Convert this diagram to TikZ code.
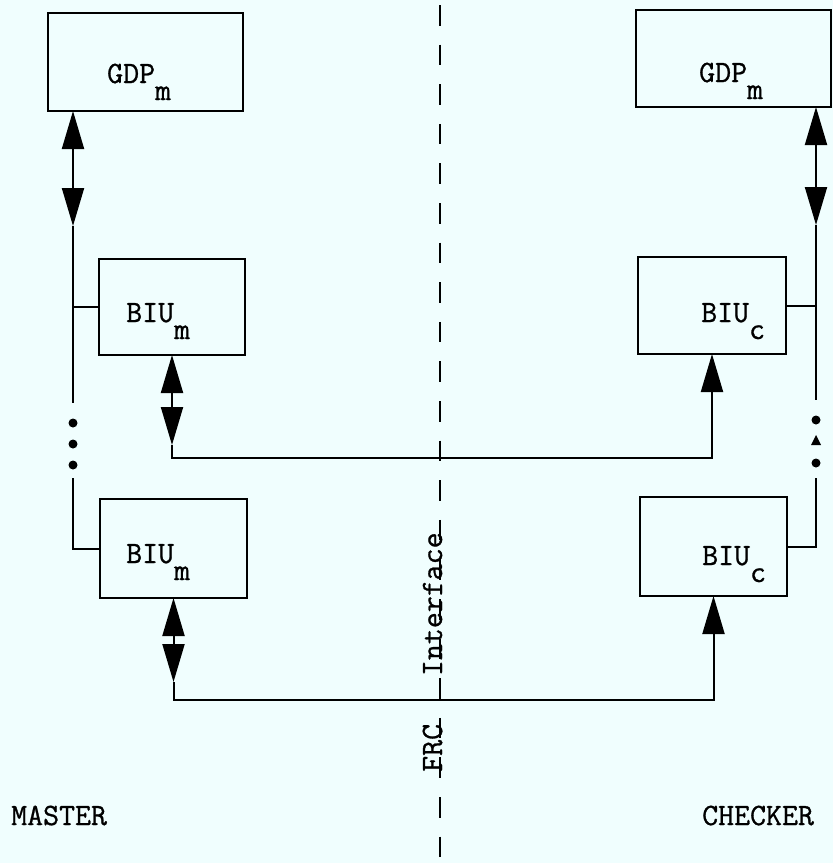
\documentclass[tikz,border=0pt]{standalone}
\usepackage{fontspec}
\usetikzlibrary{arrows.meta}
\newfontfamily\twfont{Latin Modern Mono}[FakeBold=0.9]
\definecolor{bgc}{RGB}{240,254,254}
\newcommand\lowsub[1]{\raisebox{-17pt}{#1}}
\tikzset{
  bigtri/.tip={Triangle[length=38pt,width=22pt]},
  box/.style 2 args={draw, line width=2.8pt, inner sep=0pt, outer sep=0pt,
    minimum width=#1pt, minimum height=#2pt},
  lbl/.style={font=\fontsize{31}{36}\selectfont\twfont, inner sep=0pt, anchor=base west},
  conn/.style={line width=2pt},
  dotmark/.style={fill=black}
}
\begin{document}
\begin{tikzpicture}[x=1pt,y=-1pt]
\fill[bgc] (0,0) rectangle (833,863);
\useasboundingbox (0,0) rectangle (833,863);

% boxes
\node[box={195}{98}] (gdpm) at (145.5,62) {};
\node[box={195}{97}] (gdpc) at (733.5,58.5) {};
\node[box={146}{96}] (bm1) at (172,307) {};
\node[box={148}{97}] (bc1) at (712,305.5) {};
\node[box={147}{99}] (bm2) at (173.5,548.5) {};
\node[box={147}{99}] (bc2) at (713.5,546.5) {};

% labels
\node[lbl] (tgm) at (107,83) {GDP\lowsub{m}};
\node[lbl] (tgc) at (699,82) {GDP\lowsub{m}};
\node[lbl] (tbm1) at (126,322) {BIU\lowsub{m}};
\node[lbl] (tbc1) at (701,322) {BIU\lowsub{c}};
\node[lbl] (tbm2) at (126,563) {BIU\lowsub{m}};
\node[lbl] (tbc2) at (702,565) {BIU\lowsub{c}};
\node[lbl] (tmaster) at (11,825) {MASTER};
\node[lbl] (tchecker) at (702,825) {CHECKER};
\node[lbl, rotate=90] (tfrc) at (442,772) {FRC~~~Interface};

% divider
\coordinate (dtop) at (440,5);
\coordinate (dbot) at (440,863);
\draw[line width=2.8pt, dash pattern=on 20.5pt off 19.1pt] (dtop) -- (dbot);

% left (master) bus
\coordinate (lbusA) at (73,226);
\coordinate (lbusB) at (73,403);
\coordinate (lbusC) at (73,478);
\draw[conn, bigtri-bigtri] (gdpm.south -| lbusA) -- (lbusA);
\draw[conn] (lbusA) -- (lbusB);
\draw[conn] (bm1.west) -- (bm1.west -| lbusA);
\draw[conn] (lbusC) |- (bm2.west);
\fill[dotmark] (73,423) circle[radius=4.5pt];
\fill[dotmark] (73,444) circle[radius=4.5pt];
\fill[dotmark] (73,465) circle[radius=4.5pt];

% right (checker) bus
\coordinate (rbusA) at (816,225);
\coordinate (rbusB) at (816,400);
\coordinate (rbusC) at (816,478);
\draw[conn, bigtri-bigtri] (gdpc.south -| rbusA) -- (rbusA);
\draw[conn] (rbusA) -- (rbusB);
\draw[conn] (bc1.east) -- (bc1.east -| rbusA);
\draw[conn] (rbusC) |- (bc2.east);
\fill[dotmark] (816,420) circle[radius=4.5pt];
\fill[dotmark] (816,435) -- (821,445) -- (811,445) -- cycle;
\fill[dotmark] (816,463) circle[radius=4.5pt];

% FRC connections
\coordinate (m1) at (172,445);
\coordinate (bus1) at (172,458);
\draw[conn, bigtri-bigtri] (bm1.south) -- (m1);
\draw[conn, -bigtri] (m1) -- (bus1) -| (bc1.south);

\coordinate (m2) at (173.5,682);
\coordinate (bus2) at (173.5,700);
\draw[conn, bigtri-bigtri] (bm2.south) -- (m2);
\draw[conn, -bigtri] (m2) -- (bus2) -| (bc2.south);
\end{tikzpicture}
\end{document}
